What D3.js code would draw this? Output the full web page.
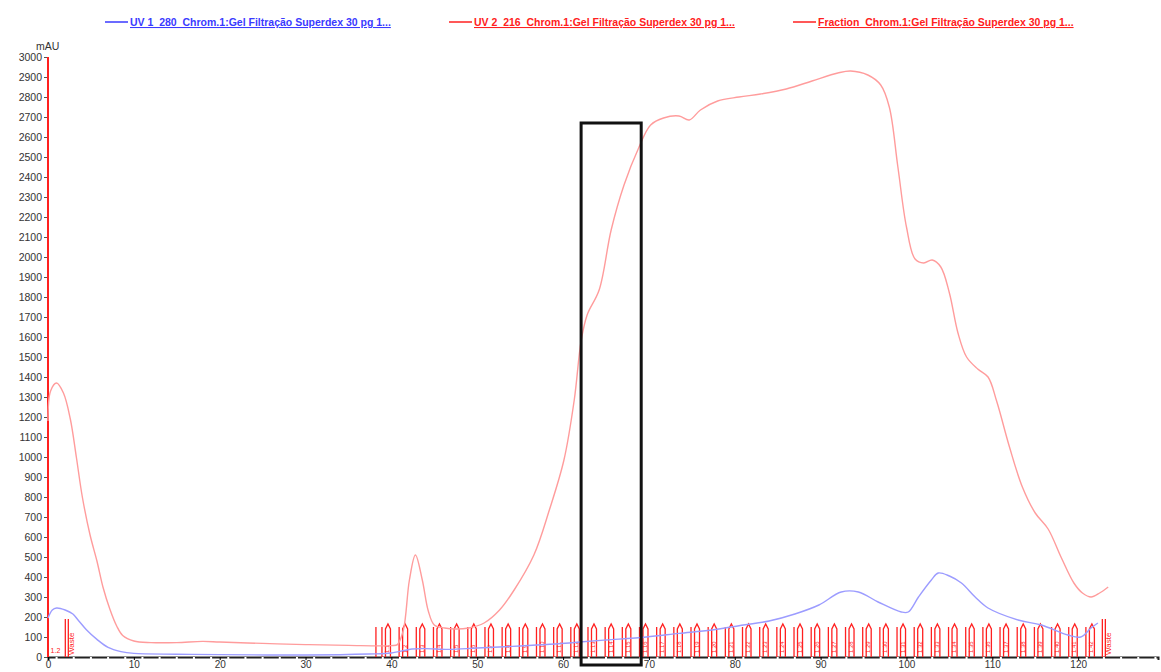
<!DOCTYPE html>
<html>
<head>
<meta charset="utf-8">
<script src="https://cdn.jsdelivr.net/npm/d3@7"></script>
<style>
  body { margin: 0; background: #fff; }
  svg { display: block; font-family: Arial, "Liberation Sans", sans-serif; }
</style>
</head>
<body>
<div id="chart"></div>
<script>
// UV 2 (216 nm) trace, [volume ml, mAU]
const uv216 = [
  [0, 1180], [0.3, 1330], [1, 1370], [1.8, 1320], [2.6, 1190], [3.3, 1000], [4, 800],
  [4.9, 610], [5.7, 480], [6.4, 350], [7.2, 240], [8, 155], [8.7, 108], [10, 80],
  [12, 72], [15, 72], [18, 78], [20, 75], [25, 68], [30, 62], [35, 58], [40, 57],
  [40.7, 62], [41.4, 135], [42.1, 385], [42.8, 510], [43.6, 385], [44.3, 230], [45, 160],
  [46.2, 145], [47.5, 140], [49, 145], [50.8, 170], [52.6, 235], [54.3, 335], [56.6, 510],
  [58.4, 735], [60.1, 985], [61.3, 1285], [62.1, 1580], [62.8, 1710], [64.2, 1835],
  [65.6, 2135], [67.1, 2360], [68.8, 2545], [70.2, 2660], [71.7, 2695], [73.5, 2705],
  [74.7, 2685], [76, 2735], [78, 2780], [80.5, 2800], [83, 2815], [86, 2840], [89, 2880],
  [92, 2920], [93.5, 2930], [95.5, 2910], [97, 2860], [98, 2750], [99, 2450], [100, 2150],
  [101, 1990], [102, 1970], [103, 1985], [104, 1950], [105, 1820], [106, 1620], [107, 1500],
  [108.3, 1440], [109.5, 1400], [110.5, 1280], [112, 1050], [113.5, 850], [115, 720],
  [116.5, 640], [118, 500], [119.5, 370], [120.5, 320], [121.5, 300], [122.5, 320], [123.5, 350]
];

// UV 1 (280 nm) trace
const uv280 = [
  [0, 195], [0.5, 235], [1, 245], [2, 235], [2.9, 215], [3.5, 185], [4.5, 135], [5.7, 88],
  [7, 48], [8.5, 27], [10, 18], [15, 14], [20, 12], [30, 10], [37.4, 15], [40, 20],
  [42.4, 40], [44, 42], [46.7, 38], [50, 45], [55, 55], [60.7, 70], [61.9, 75], [65, 85],
  [69.7, 100], [73.5, 118], [77.3, 135], [81, 160], [84, 180], [87, 215], [89.8, 260],
  [92.4, 325], [94.4, 325], [96.7, 275], [99.4, 225], [100.2, 225], [101.4, 300],
  [102.9, 385], [103.7, 420], [105, 405], [106.4, 370], [108, 300], [109.5, 245],
  [113, 185], [115.7, 160], [118.8, 110], [120.3, 100], [121.5, 145], [122.3, 170]
];

// fraction marks (ml)
const fractionMarks = [
  39.6, 41.6, 43.6, 45.6, 47.6, 49.6, 51.6, 53.6, 55.6, 57.6, 59.6, 61.6, 63.6, 65.6,
  67.6, 69.6, 71.6, 73.6, 75.6, 77.6, 79.6, 81.6, 83.6, 85.6, 87.6, 89.6, 91.6, 93.6,
  95.6, 97.6, 99.6, 101.6, 103.6, 105.6, 107.6, 109.6, 111.6, 113.6, 115.6, 117.6,
  119.6, 121.6
];
const wasteMarks = [2.6, 123.4];

const yTicks = d3.range(0, 3001, 100);
const xTicks = [0, 10, 20, 30, 40, 50, 60, 70, 80, 90, 100, 110, 120];

const legendItems = [
  { label: "UV 1_280_Chrom.1:Gel Filtração Superdex 30 pg 1...", color: "#3a3aff" },
  { label: "UV 2_216_Chrom.1:Gel Filtração Superdex 30 pg 1...", color: "#ff2020" },
  { label: "Fraction_Chrom.1:Gel Filtração Superdex 30 pg 1...", color: "#ff2020" }
];

// highlight box drawn on the figure [x0, x1, yTop, yBottom]
const highlightBox = [62.1, 69.1, 2670, -40];

const width = 1161, height = 672;
const svg = d3.select("#chart").append("svg")
  .attr("width", width).attr("height", height);

const x = d3.scaleLinear().domain([0, 129.3]).range([48, 1158]);
const y = d3.scaleLinear().domain([0, 3000]).range([657, 57]);

// legend
const legendX = [105, 449, 793];
legendItems.forEach((d, i) => {
  const g = svg.append("g").attr("transform", `translate(${legendX[i]},22)`);
  g.append("line").attr("x1", 0).attr("x2", 23).attr("y1", 0).attr("y2", 0)
    .attr("stroke", d.color).attr("stroke-width", 1.5);
  g.append("text").attr("x", 25).attr("y", 4)
    .attr("fill", d.color).attr("font-size", 10.5).attr("font-weight", "bold")
    .attr("text-decoration", "underline")
    .text(d.label);
});

// y axis
const yAxis = svg.append("g").attr("transform", "translate(48,0)")
  .call(d3.axisLeft(y).tickValues(yTicks).tickSize(4).tickPadding(2).tickFormat(d3.format("d")));
yAxis.select(".domain").attr("stroke", "#333");
yAxis.selectAll("text").attr("font-size", 10.5).attr("fill", "#333");
yAxis.selectAll(".tick line").attr("stroke", "#555");

svg.append("text").attr("x", 36).attr("y", 50)
  .attr("font-size", 10.5).attr("fill", "#333").text("mAU");

// x axis
const xAxis = svg.append("g").attr("transform", "translate(0,657)")
  .call(d3.axisBottom(x).tickValues(xTicks).tickSize(3).tickPadding(1)
    .tickFormat(d3.format("d")));
xAxis.select(".domain").attr("stroke", "#222").attr("stroke-width", 2);
xAxis.selectAll("text").attr("font-size", 10).attr("fill", "#333");
svg.append("g").selectAll("line")
  .data(d3.range(1, 130, 2))
  .join("line")
  .attr("x1", d => x(d)).attr("x2", d => x(d))
  .attr("y1", 657).attr("y2", 659)
  .attr("stroke", "#fff").attr("stroke-width", 2);

// injection mark
svg.append("line")
  .attr("x1", x(0)).attr("x2", x(0)).attr("y1", y(0)).attr("y2", y(3000))
  .attr("stroke", "#ff2020").attr("stroke-width", 2);

const line = d3.line()
  .x(d => x(d[0])).y(d => y(d[1]))
  .curve(d3.curveCatmullRom);

// fraction marks
const frac = svg.append("g").attr("stroke", "#ff2020").attr("fill", "none")
  .attr("stroke-width", 1.3);
frac.append("line")
  .attr("x1", x(38.2)).attr("x2", x(38.2)).attr("y1", y(0)).attr("y2", y(150));
fractionMarks.forEach((m, i) => {
  const cx = x(m);
  frac.append("path")
    .attr("d", `M${cx - 2.5},${y(0)} L${cx - 2.5},${y(140)} L${cx},${y(165)} L${cx + 2.5},${y(140)} L${cx + 2.5},${y(0)}`);
  frac.append("line")
    .attr("x1", cx - 6).attr("x2", cx - 6).attr("y1", y(0)).attr("y2", y(150));
  svg.append("text")
    .attr("transform", `translate(${cx + 1.5},${y(20)}) rotate(-90)`)
    .attr("font-size", 6).attr("fill", "#ff2020")
    .text(`1.${i + 1}`);
});

// waste marks
wasteMarks.forEach(m => {
  const cx = x(m);
  frac.append("line").attr("x1", cx - 5).attr("x2", cx - 5).attr("y1", y(0)).attr("y2", y(190));
  frac.append("line").attr("x1", cx - 2).attr("x2", cx - 2).attr("y1", y(0)).attr("y2", y(190));
  svg.append("text")
    .attr("transform", `translate(${cx + 4},${y(10)}) rotate(-90)`)
    .attr("font-size", 8).attr("fill", "#ff2020")
    .text("Waste");
});
svg.append("text").attr("x", x(0.3)).attr("y", y(20))
  .attr("font-size", 7).attr("fill", "#ff2020").text("1.2");

// traces
svg.append("path").datum(uv280)
  .attr("d", line).attr("fill", "none")
  .attr("stroke", "#9c9cff").attr("stroke-width", 1.4);
svg.append("path").datum(uv216)
  .attr("d", line).attr("fill", "none")
  .attr("stroke", "#ff9c9c").attr("stroke-width", 1.4);

// highlight box
svg.append("rect")
  .attr("x", x(highlightBox[0])).attr("y", y(highlightBox[2]))
  .attr("width", x(highlightBox[1]) - x(highlightBox[0]))
  .attr("height", y(highlightBox[3]) - y(highlightBox[2]))
  .attr("fill", "none").attr("stroke", "#111").attr("stroke-width", 3);
</script>
</body>
</html>
